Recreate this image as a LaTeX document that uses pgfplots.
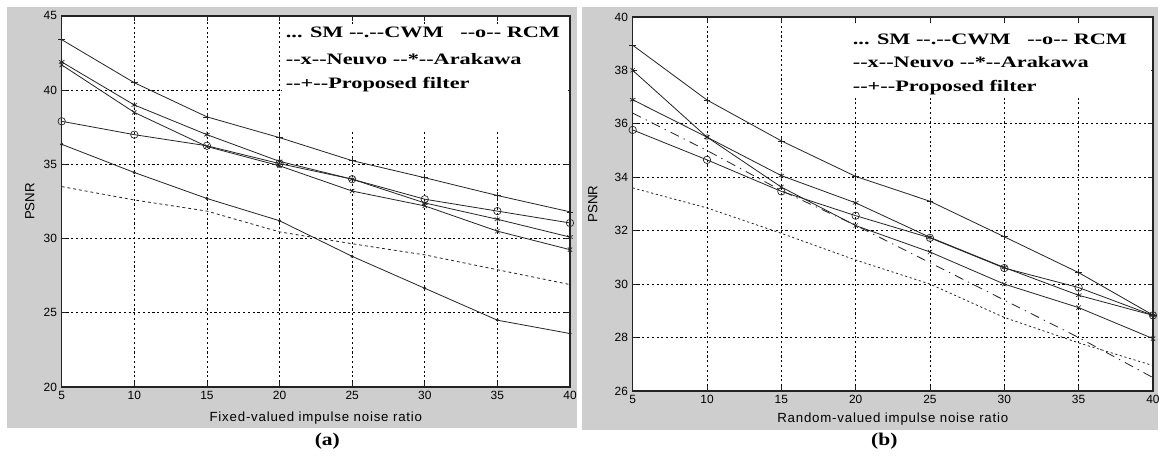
\documentclass[border=0pt]{standalone}
\usepackage{fontspec}
\setmainfont{Liberation Sans}
\newfontfamily\legfont[Ligatures=TeXOff]{Liberation Serif}
\usepackage{pgfplots}
\pgfplotsset{compat=1.18}

\definecolor{panelgray}{RGB}{206,206,206}
\definecolor{ink}{RGB}{35,35,35}

\pgfplotsset{
  psnr/.style={
    scale only axis,
    anchor=south west,
    xmin=5, xmax=40,
    xtick={5,10,...,40},
    tick align=inside,
    tick pos=both,
    grid=major,
    major grid style={black, line width=0.45pt, dash pattern=on 1.6pt off 2pt},
    axis line style={ink, line width=0.9pt},
    tick style={ink, line width=0.5pt},
    major tick length=3.5pt,
    ticklabel style={font=\fontsize{9}{10}\selectfont},
    /pgf/number format/assume math mode=true,
    axis background/.style={fill=white},
    label style={font=\fontsize{9.5}{11}\selectfont},
    every axis y label/.style={rotate=90, anchor=center},
    clip=false,
    every axis plot/.append style={ink, line width=0.6pt, mark options={solid, line width=0.5pt}},
  },
}

\begin{document}
\begin{tikzpicture}[x=0.75pt,y=0.75pt]
\fill[white] (0,0) rectangle (1164,458);
\fill[panelgray] (7,28) rectangle (580,451);
\fill[panelgray] (585,26) rectangle (1164,451);

% (a) fixed-valued impulse noise
\begin{axis}[psnr,
    at={(46.5pt,51.75pt)}, width=383.25pt, height=279.75pt,
    ymin=20, ymax=45, ytick={20,25,...,45},
    xlabel={\addfontfeature{LetterSpace=6}Fixed-valued impulse noise ratio},
    every axis x label/.style={at={(axis description cs:0.5,0)}, anchor=center, yshift=-23.25pt},
    ylabel={PSNR},
    every axis y label/.append style={at={(axis description cs:-0.0626,0.5)}},
]
\fill[white] (axis cs:20.14,44.45) rectangle (axis cs:39.86,37.4);
% SM
\addplot[dash pattern=on 2.2pt off 2.2pt] coordinates {(5,33.5) (10,32.6) (15,31.85) (20,30.45) (25,29.65) (30,28.9) (35,27.9) (40,26.9)};
% CWM
\addplot[mark=*, mark size=0.9pt] coordinates {(5,36.35) (10,34.45) (15,32.7) (20,31.2) (25,28.8) (30,26.65) (35,24.5) (40,23.6)};
% RCM
\addplot[mark=o, mark size=2.8pt] coordinates {(5,37.9) (10,37.0) (15,36.25) (20,35.05) (25,34.0) (30,32.65) (35,31.85) (40,31.05)};
% Neuvo
\addplot[mark=x, mark size=2.3pt] coordinates {(5,41.7) (10,38.5) (15,36.2) (20,34.9) (25,33.2) (30,32.2) (35,30.5) (40,29.25)};
% Arakawa
\addplot[mark=asterisk, mark size=2.4pt] coordinates {(5,41.9) (10,39.0) (15,37.0) (20,35.2) (25,34.0) (30,32.4) (35,31.3) (40,30.1)};
% Proposed
\addplot[mark=+, mark size=2.6pt] coordinates {(5,43.4) (10,40.5) (15,38.2) (20,36.8) (25,35.25) (30,34.1) (35,32.9) (40,31.8)};
\end{axis}

% (b) random-valued impulse noise
\begin{axis}[psnr,
    at={(477pt,48.75pt)}, width=392.25pt, height=282pt,
    ymin=26, ymax=40, ytick={26,28,30,32,34,36,40},
    extra y ticks={38}, extra y tick style={grid=none},
    xlabel={\addfontfeature{LetterSpace=6}Random-valued impulse noise ratio},
    every axis x label/.style={at={(axis description cs:0.5,0)}, anchor=center, yshift=-21.5pt},
    ylabel={PSNR},
    every axis y label/.append style={at={(axis description cs:-0.0765,0.5)}},
]
\fill[white] (axis cs:19.3,39.73) rectangle (axis cs:39.87,37.04);
% SM
\addplot[dash pattern=on 1.6pt off 2pt] coordinates {(5,33.6) (10,32.85) (15,31.9) (20,30.9) (25,30.0) (30,28.75) (35,27.8) (40,26.95)};
% CWM
\addplot[dash pattern=on 7pt off 4pt on 1pt off 4pt] coordinates {(5,36.4) (10,35.0) (15,33.5) (20,32.2) (25,30.8) (30,29.4) (35,28.0) (40,26.5)};
% RCM
\addplot[mark=o, mark size=2.8pt] coordinates {(5,35.77) (10,34.65) (15,33.47) (20,32.56) (25,31.73) (30,30.6) (35,29.87) (40,28.83)};
% Neuvo
\addplot[mark=x, mark size=2.3pt] coordinates {(5,38.0) (10,35.5) (15,33.63) (20,32.19) (25,31.2) (30,30.0) (35,29.12) (40,27.96)};
% Arakawa
\addplot[mark=asterisk, mark size=2.4pt] coordinates {(5,36.9) (10,35.5) (15,34.06) (20,33.04) (25,31.75) (30,30.62) (35,29.58) (40,28.83)};
% Proposed
\addplot[mark=+, mark size=2.6pt] coordinates {(5,38.94) (10,36.89) (15,35.36) (20,34.03) (25,33.1) (30,31.77) (35,30.43) (40,28.84)};
\end{axis}

% legend texts (pasted as stretched bold serif)
\begin{scope}[every node/.style={anchor=base west, inner sep=0pt, xscale=1.4,
    font=\legfont\bfseries\fontsize{12}{14}\selectfont}]
\node at (287,420) {... SM --.--CWM \ \ --o-- RCM};
\node at (287,393) {--x--Neuvo --*--Arakawa};
\node at (287,369) {--+--Proposed filter};
\node at (857,413) {... SM --.--CWM \ \ --o-- RCM};
\node at (857,390) {--x--Neuvo --*--Arakawa};
\node at (857,366) {--+--Proposed filter};
\end{scope}
\node[font=\legfont\bfseries\fontsize{13.5}{15}\selectfont, xscale=1.2] at (329,14) {(a)};
\node[font=\legfont\bfseries\fontsize{13.5}{15}\selectfont, xscale=1.2] at (889,14) {(b)};
\end{tikzpicture}
\end{document}
